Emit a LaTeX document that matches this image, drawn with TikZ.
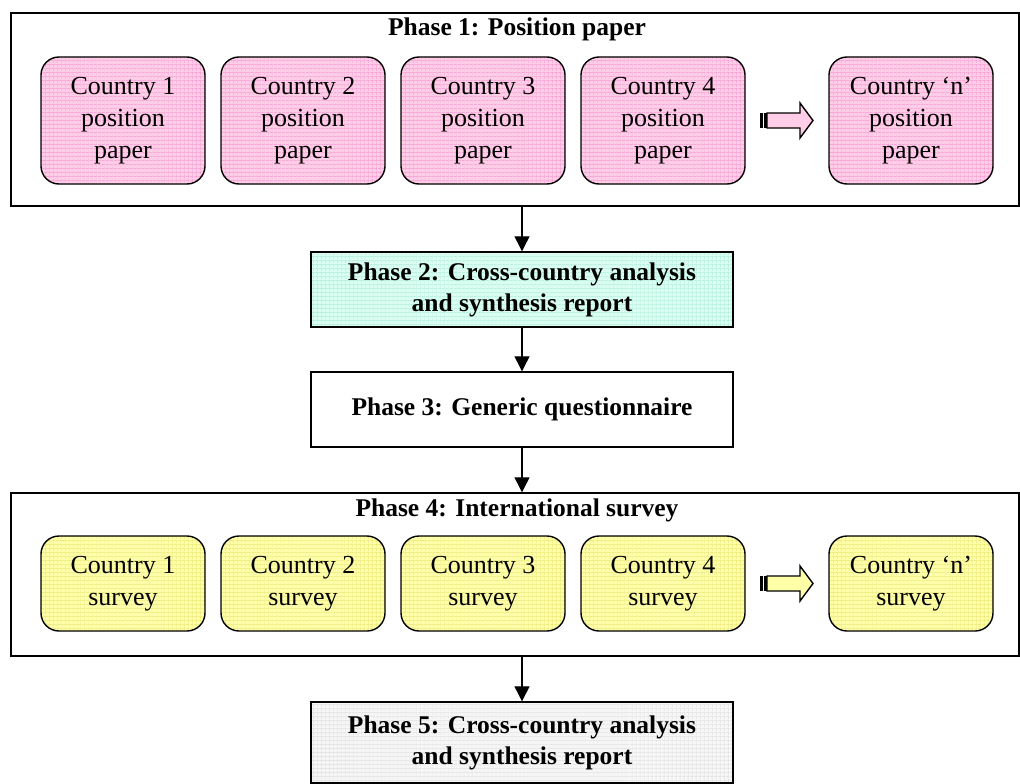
\documentclass[tikz,border=0pt]{standalone}
\usepackage{fontspec}
\setmainfont{Liberation Serif}
\usetikzlibrary{arrows.meta,patterns.meta}

\definecolor{pinkbg}{RGB}{255,205,232}
\definecolor{pinkln}{RGB}{242,150,205}
\definecolor{yellowbg}{RGB}{255,255,168}
\definecolor{yellowln}{RGB}{232,228,110}
\definecolor{cyanbg}{RGB}{218,255,242}
\definecolor{cyanln}{RGB}{170,236,214}
\definecolor{greybg}{RGB}{246,246,246}
\definecolor{greyln}{RGB}{222,222,222}

\tikzset{
  gridfill/.style 2 args={
    preaction={fill=#1},
    preaction={pattern={Lines[distance=4pt,line width=0.4pt]},pattern color=#2},
    preaction={pattern={Lines[angle=90,distance=4pt,line width=0.4pt]},pattern color=#2}},
  countrybox/.style={draw,line width=1.4pt,rounded corners=18pt,minimum width=164pt,
    align=center,inner sep=0pt,font=\fontsize{26}{32}\selectfont},
  phasebox/.style={draw,line width=1.4pt,minimum width=422pt,align=center,inner sep=0pt,
    font=\bfseries\fontsize{25.5}{31}\selectfont},
  outerbox/.style={draw,line width=1.4pt,minimum width=1008pt,inner sep=0pt},
  titletext/.style={font=\bfseries\fontsize{25.5}{31}\selectfont,inner sep=0pt},
  flow/.style={line width=1.2pt,-{Triangle[width=15pt,length=15pt]}}
}

\begin{document}
\begin{tikzpicture}[x=1pt,y=-1pt]
\useasboundingbox (0,0) rectangle (1020,784);
% phase 1
\node[outerbox,minimum height=193pt] (ph1) at (515,109.5) {};
\node[titletext] (ph1title) at (517,29) {Phase 1: Position paper};
\node[countrybox,gridfill={pinkbg}{pinkln},minimum height=127pt] (pos1) at (123,120.5) {Country 1\\position\\paper};
\node[countrybox,gridfill={pinkbg}{pinkln},minimum height=127pt] (pos2) at (303,120.5) {Country 2\\position\\paper};
\node[countrybox,gridfill={pinkbg}{pinkln},minimum height=127pt] (pos3) at (483,120.5) {Country 3\\position\\paper};
\node[countrybox,gridfill={pinkbg}{pinkln},minimum height=127pt] (pos4) at (663,120.5) {Country 4\\position\\paper};
\node[countrybox,gridfill={pinkbg}{pinkln},minimum height=127pt] (posn) at (911,120.5) {Country `n'\\position\\paper};
\fill (760,113) rectangle (762.5,128);
\fill (764,113) rectangle (767,128);
\draw[line width=1.4pt,fill=pinkbg] (767,113) -- (800,113) -- (800,103) -- (813,120.5)
  -- (800,138) -- (800,128) -- (767,128) -- cycle;
% phases 2 and 3
\node[phasebox,gridfill={cyanbg}{cyanln},minimum height=75pt] (ph2) at (522,289.5) {Phase 2: Cross-country analysis\\and synthesis report};
\node[phasebox,minimum height=75pt] (ph3) at (522,409.5) {Phase 3: Generic questionnaire};
% phase 4
\node[outerbox,minimum height=163pt] (ph4) at (515,574.5) {};
\node[titletext] (ph4title) at (517,510) {Phase 4: International survey};
\node[countrybox,gridfill={yellowbg}{yellowln},minimum height=95pt] (sur1) at (123,583.5) {Country 1\\survey};
\node[countrybox,gridfill={yellowbg}{yellowln},minimum height=95pt] (sur2) at (303,583.5) {Country 2\\survey};
\node[countrybox,gridfill={yellowbg}{yellowln},minimum height=95pt] (sur3) at (483,583.5) {Country 3\\survey};
\node[countrybox,gridfill={yellowbg}{yellowln},minimum height=95pt] (sur4) at (663,583.5) {Country 4\\survey};
\node[countrybox,gridfill={yellowbg}{yellowln},minimum height=95pt] (surn) at (911,583.5) {Country `n'\\survey};
\fill (760,576) rectangle (762.5,591);
\fill (764,576) rectangle (767,591);
\draw[line width=1.4pt,fill=yellowbg] (767,576) -- (800,576) -- (800,566) -- (813,583.5)
  -- (800,601) -- (800,591) -- (767,591) -- cycle;
% phase 5
\node[phasebox,gridfill={greybg}{greyln},minimum height=81pt] (ph5) at (522,742.5) {Phase 5: Cross-country analysis\\and synthesis report};
% connectors
\draw[flow] (ph1.south -| ph2.north) -- (ph2.north);
\draw[flow] (ph2.south) -- (ph3.north);
\draw[flow] (ph3.south) -- (ph4.north -| ph3.south);
\draw[flow] (ph4.south -| ph5.north) -- (ph5.north);
\end{tikzpicture}
\end{document}
